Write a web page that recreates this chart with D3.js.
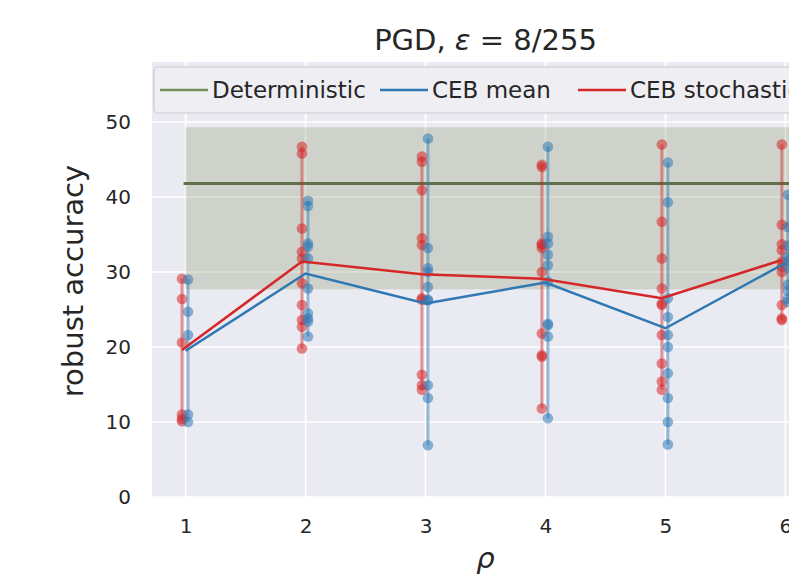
<!DOCTYPE html>
<html>
<head>
<meta charset="utf-8">
<script src="https://cdn.jsdelivr.net/npm/d3@7"></script>
<style>
  body { margin: 0; background: #fff; }
  text { font-family: "DejaVu Sans", sans-serif; fill: #262626; }
</style>
</head>
<body>
<div id="container"></div>
<script>
const rhos = [1, 2, 3, 4, 5, 6];
const yTicks = [0, 10, 20, 30, 40, 50];

// deterministic baseline and its min/max band
const detValue = 41.8;
const detLow = 27.7;
const detHigh = 49.3;

// per-rho values of the runs
const meanPoints = [
  [29.0, 24.7, 21.6, 11.0, 10.0],
  [39.5, 38.8, 33.8, 33.4, 31.8, 27.8, 24.5, 23.8, 23.4, 21.4],
  [47.8, 33.2, 30.5, 30.0, 28.0, 26.3, 26.2, 14.9, 13.2, 6.9],
  [46.7, 34.7, 33.8, 32.3, 30.9, 28.7, 23.1, 22.9, 21.4, 10.5],
  [44.6, 39.3, 26.5, 24.0, 21.6, 20.0, 16.5, 13.2, 10.0, 7.0],
  [40.3, 36.0, 33.5, 32.0, 31.5, 30.5, 28.3, 27.5, 26.0, 26.4]
];
const stochPoints = [
  [29.1, 26.4, 20.6, 11.0, 10.4, 10.1],
  [46.7, 45.8, 35.8, 32.7, 31.8, 28.5, 25.6, 23.6, 22.7, 19.8],
  [45.4, 44.7, 40.9, 34.5, 33.6, 26.5, 26.3, 16.3, 14.9, 14.3],
  [44.3, 44.0, 33.8, 33.6, 33.2, 30.0, 21.8, 18.9, 18.7, 11.8],
  [47.0, 36.7, 31.8, 27.8, 25.8, 25.6, 21.6, 17.8, 15.4, 14.3],
  [47.0, 36.3, 33.7, 32.9, 31.4, 30.7, 30.0, 25.6, 23.8, 23.6]
];

// averages drawn as lines
const meanAvg = [19.5, 29.8, 25.8, 28.6, 22.5, 31.2];
const stochAvg = [19.6, 31.4, 29.7, 29.1, 26.5, 31.6];

const w = 789;
const h = 576;

const svg = d3.select('#container')
  .append('svg')
    .attr('width', w)
    .attr('height', h);

const x = d3.scaleLinear()
  .domain([0.72, 6.28])
  .range([152, 819]);

const y = d3.scaleLinear()
  .domain([0, 58])
  .range([497, 62]);

const blue = '#2f78b4';
const red = '#d62728';
const green = '#5f7148';

// axes background
svg.append('rect')
  .attr('x', x(0.72))
  .attr('y', y(58))
  .attr('width', x(6.28) - x(0.72))
  .attr('height', y(0) - y(58))
  .style('fill', '#eaeaf2');

// grid
svg.append('g')
  .selectAll('line')
  .data(yTicks)
  .enter()
  .append('line')
    .attr('x1', x(0.72))
    .attr('x2', x(6.28))
    .attr('y1', d => y(d))
    .attr('y2', d => y(d))
    .style('stroke', '#fff')
    .style('stroke-width', 1.6);

svg.append('g')
  .selectAll('line')
  .data(rhos)
  .enter()
  .append('line')
    .attr('x1', d => x(d))
    .attr('x2', d => x(d))
    .attr('y1', y(0))
    .attr('y2', y(58))
    .style('stroke', '#fff')
    .style('stroke-width', 1.6);

// tick labels
const yAxis = d3.axisLeft(y).tickValues(yTicks).tickSize(0).tickPadding(21);
svg.append('g')
  .attr('transform', 'translate(' + x(0.72) + ', 0)')
  .call(yAxis)
  .call(g => g.select('.domain').remove())
  .selectAll('text')
    .style('font-size', '20px')
    .style('font-family', '"DejaVu Sans", sans-serif')
    .style('fill', '#262626');

const xAxis = d3.axisBottom(x).tickValues(rhos).tickFormat(d3.format('d')).tickSize(0).tickPadding(22);
svg.append('g')
  .attr('transform', 'translate(0, ' + y(0) + ')')
  .call(xAxis)
  .call(g => g.select('.domain').remove())
  .selectAll('text')
    .style('font-size', '20px')
    .style('font-family', '"DejaVu Sans", sans-serif')
    .style('fill', '#262626');

// deterministic band + line
svg.append('rect')
  .attr('x', x(1))
  .attr('y', y(detHigh))
  .attr('width', x(6.28) - x(1))
  .attr('height', y(detLow) - y(detHigh))
  .style('fill', '#7a8a52')
  .style('opacity', 0.25);

svg.append('line')
  .attr('x1', x(1) - 2)
  .attr('x2', x(6.28))
  .attr('y1', y(detValue))
  .attr('y2', y(detValue))
  .style('stroke', green)
  .style('stroke-width', 3);

// runs: range lines + dots
const series = [
  { pts: stochPoints, avg: stochAvg, color: red, dx: -0.03, lx: -0.03 },
  { pts: meanPoints, avg: meanAvg, color: blue, dx: 0.02, lx: 0 }
];

series.forEach(s => {
  const g = svg.append('g');
  g.selectAll('line')
    .data(s.pts)
    .enter()
    .append('line')
      .attr('x1', (d, i) => x(rhos[i] + s.dx))
      .attr('x2', (d, i) => x(rhos[i] + s.dx))
      .attr('y1', d => y(d3.min(d)))
      .attr('y2', d => y(d3.max(d)))
      .style('stroke', s.color)
      .style('stroke-width', 3)
      .style('opacity', 0.45);

  s.pts.forEach((arr, i) => {
    g.selectAll(null)
      .data(arr)
      .enter()
      .append('circle')
        .attr('cx', x(rhos[i] + s.dx))
        .attr('cy', d => y(d))
        .attr('r', 5.3)
        .style('fill', s.color)
        .style('opacity', 0.55);
  });
});

// averages
series.slice().reverse().forEach(s => {
  svg.append('path')
    .datum(s.avg)
    .attr('d', d3.line()
      .x((d, i) => x(rhos[i] + s.lx))
      .y(d => y(d)))
    .style('fill', 'none')
    .style('stroke', s.color)
    .style('stroke-width', 2.5);
});

// legend
const legend = svg.append('g');

legend.append('rect')
  .attr('x', 154)
  .attr('y', 67)
  .attr('width', 700)
  .attr('height', 46)
  .attr('rx', 4)
  .style('fill', '#eeeef3')
  .style('fill-opacity', 0.9)
  .style('stroke', '#cccccc')
  .style('stroke-width', 1.2);

const items = [
  { label: 'Deterministic', color: '#75905a', x0: 160 },
  { label: 'CEB mean', color: blue, x0: 380 },
  { label: 'CEB stochastic', color: red, x0: 578 }
];

items.forEach(it => {
  legend.append('line')
    .attr('x1', it.x0)
    .attr('x2', it.x0 + 48)
    .attr('y1', 90)
    .attr('y2', 90)
    .style('stroke', it.color)
    .style('stroke-width', 2.5);
  legend.append('text')
    .attr('x', it.x0 + 52)
    .attr('y', 98)
    .style('font-size', '23px')
    .text(it.label);
});

// labels
svg.append('text')
  .attr('transform', 'rotate(-90)')
  .attr('x', -281)
  .attr('y', 83)
  .attr('text-anchor', 'middle')
  .style('font-size', '29px')
  .text('robust accuracy');

svg.append('text')
  .attr('x', x(3.5))
  .attr('y', 568)
  .attr('text-anchor', 'middle')
  .style('font-size', '29px')
  .style('font-style', 'italic')
  .text('ρ');

const title = svg.append('text')
  .attr('x', x(3.5))
  .attr('y', 50)
  .attr('text-anchor', 'middle')
  .style('font-size', '29px');
title.append('tspan').text('PGD, ');
title.append('tspan').style('font-style', 'italic').text('ε');
title.append('tspan').text(' = 8/255');
</script>
</body>
</html>
